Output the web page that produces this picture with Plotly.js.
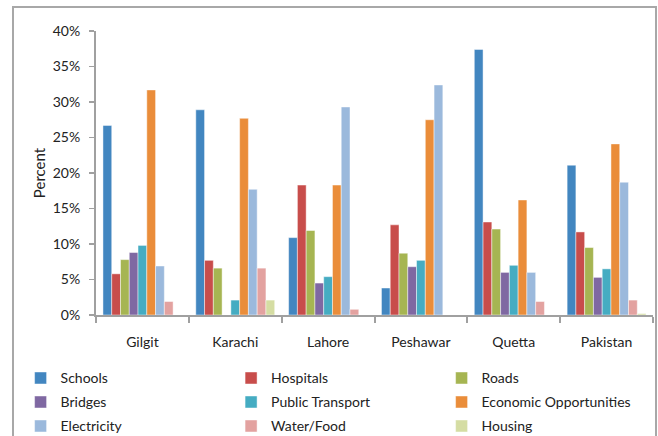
<!DOCTYPE html>
<html>
<head>
<meta charset="utf-8">
<script src="https://cdn.plot.ly/plotly-3.0.1.min.js"></script>
<style>html,body{margin:0;padding:0;background:#fff;}#chart{width:658px;height:436px;}</style>
</head>
<body>
<div id="chart"></div>
<script>
var cities = ["Gilgit", "Karachi", "Lahore", "Peshawar", "Quetta", "Pakistan"];
var seriesNames = ["Schools", "Hospitals", "Roads", "Bridges", "Public Transport", "Economic Opportunities", "Electricity", "Water/Food", "Housing"];
var schools = [26.7, 28.9, 10.9, 3.8, 37.4, 21.1];
var hospitals = [5.8, 7.7, 18.3, 12.7, 13.1, 11.7];
var roads = [7.8, 6.6, 11.9, 8.7, 12.1, 9.5];
var bridges = [8.8, 0, 4.5, 6.8, 6.0, 5.3];
var publicTransport = [9.8, 2.1, 5.4, 7.7, 7.0, 6.5];
var economic = [31.7, 27.7, 18.3, 27.5, 16.2, 24.1];
var electricity = [6.9, 17.7, 29.3, 32.4, 6.0, 18.7];
var waterFood = [1.9, 6.6, 0.8, 0, 1.9, 2.1];
var housing = [0, 2.1, 0, 0, 0, 0.2];
var colors = ["#4286C0", "#C84D4B", "#A6B552", "#7F68A2", "#45ACC2", "#EA8D3A", "#9BB9DC", "#E3A2A0", "#D5DDA3"];

var allValues = [schools, hospitals, roads, bridges, publicTransport, economic, electricity, waterFood, housing];
// legend rows: three series per row
var legendIds = ["legend", "legend2", "legend3"];
var traces = allValues.map(function (vals, i) {
  return {
    type: "bar",
    name: seriesNames[i],
    x: cities,
    y: vals.map(function (v) { return v / 100; }),
    legend: legendIds[Math.floor(i / 3)],
    marker: { color: colors[i], line: { color: "rgba(255,255,255,0.45)", width: 1 } },
    hoverinfo: "x+y+name"
  };
});

function legendRow(yPaper) {
  return {
    orientation: "h",
    x: -0.1354,
    xanchor: "left",
    y: yPaper,
    yanchor: "top",
    entrywidth: 165.5,
    entrywidthmode: "pixels",
    font: { size: 14, color: "#222" },
    traceorder: "normal",
    bgcolor: "rgba(0,0,0,0)"
  };
}

var layout = {
  width: 658,
  height: 436,
  margin: { l: 96, r: 5, t: 31, b: 121, autoexpand: false },
  paper_bgcolor: "#ffffff",
  plot_bgcolor: "#ffffff",
  font: { family: "Lato, 'Open Sans', sans-serif", size: 13, color: "#222" },
  barmode: "group",
  bargap: 0.15,
  bargroupgap: 0,
  showlegend: true,
  xaxis: {
    type: "category",
    showgrid: false,
    showline: true,
    linecolor: "#a0a0a0",
    linewidth: 2,
    ticks: "outside",
    tickson: "boundaries",
    ticklen: 6,
    tickwidth: 2,
    tickcolor: "#a0a0a0",
    ticklabelstandoff: 13,
    tickfont: { size: 14, color: "#222" },
    zeroline: false,
    automargin: false
  },
  yaxis: {
    range: [0, 0.40],
    dtick: 0.05,
    tickformat: ".0%",
    showgrid: false,
    zeroline: false,
    showline: true,
    linecolor: "#a0a0a0",
    linewidth: 2,
    ticks: "outside",
    ticklen: 5,
    tickwidth: 1.5,
    tickcolor: "#a0a0a0",
    ticklabelstandoff: 6,
    tickfont: { size: 14, color: "#222" },
    automargin: false,
    title: { text: "Percent", font: { size: 15, color: "#222" }, standoff: 3 }
  },
  legend: legendRow(-0.1669),
  legend2: legendRow(-0.2514),
  legend3: legendRow(-0.3359),
  shapes: [
    {
      type: "rect", xref: "paper", yref: "paper",
      x0: -0.149, x1: 1.0054, y0: -1.0, y1: 1.0845,
      line: { color: "#a8a8a8", width: 2 }, fillcolor: "rgba(0,0,0,0)", layer: "below"
    }
  ]
};

Plotly.newPlot("chart", traces, layout, { displayModeBar: false, staticPlot: true });
</script>
</body>
</html>
